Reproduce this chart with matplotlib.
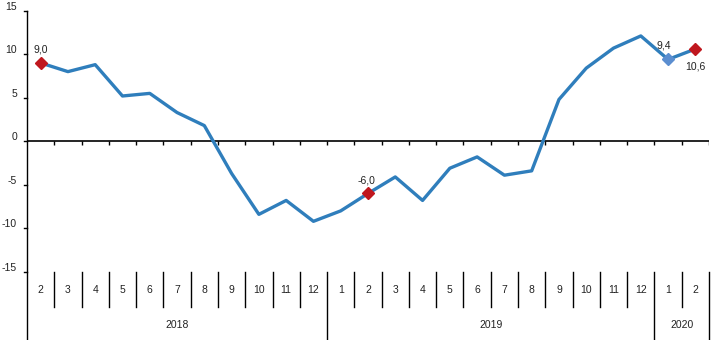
import numpy as np
import matplotlib.pyplot as plt
import matplotlib.transforms as mtransforms

plt.rcParams['font.family'] = ['Liberation Sans', 'DejaVu Sans']

# Monthly series, Feb 2018 - Feb 2020
months = ['2', '3', '4', '5', '6', '7', '8', '9', '10', '11', '12',
          '1', '2', '3', '4', '5', '6', '7', '8', '9', '10', '11', '12',
          '1', '2']
values = [9.0, 8.0, 8.8, 5.2, 5.5, 3.3, 1.8, -3.7, -8.4, -6.8, -9.2,
          -8.0, -6.0, -4.1, -6.8, -3.1, -1.8, -3.9, -3.4, 4.8, 8.4, 10.7, 12.1,
          9.4, 10.6]
years = ['2018', '2019', '2020']
year_counts = [11, 12, 2]

# highlighted points: index -> (label, marker colour, label offset in px)
red_points = [0, 12, 24]
blue_points = [23]
point_labels = {0: '9,0', 12: '-6,0', 23: '9,4', 24: '10,6'}
label_offsets = {0: (0, 13), 12: (-2, 13), 23: (-4, 14), 24: (0, -18)}

line_col = '#2F7EBC'
red_col = '#C0171E'
blue_col = '#5B8ED0'
txt_col = '#222222'
fs = 7.5

fig = plt.figure(figsize=(7.12, 3.40), dpi=100)
ax = fig.add_axes([27 / 712, 1 - 271.8 / 340, 682 / 712, 261.1 / 340])

x = np.arange(len(values))
n = len(values)
ax.plot(x, values, color=line_col, lw=2.4, zorder=3)
vals = np.array(values)
ax.plot(x[red_points], vals[red_points], ls='none', marker='D', ms=6,
        color=red_col, zorder=4)
ax.plot(x[blue_points], vals[blue_points], ls='none', marker='D', ms=6,
        color=blue_col, zorder=4)
for i, txt in point_labels.items():
    dx, dy = label_offsets[i]
    ax.annotate(txt, (x[i], values[i]), xytext=(dx, dy), textcoords='offset pixels',
                ha='center', va='center', fontsize=fs, color=txt_col)

ax.set_xlim(-0.5, n - 0.5)
ax.set_ylim(-15, 15)
for s in ['top', 'right', 'bottom', 'left']:
    ax.spines[s].set_visible(False)
ax.set_xticks([])
ax.set_yticks([])

# zero line with small downward ticks at month boundaries
ax.axhline(0, color='black', lw=1.2, zorder=2)
bounds = np.arange(n) + 0.5
ax.vlines(bounds, -0.45, 0, color='black', lw=1.0, zorder=2)

tr = ax.get_xaxis_transform()
yax = ax.get_yaxis_transform()

# y axis line running down through the category area
ax.plot([-0.5, -0.5], [1, -0.261], transform=tr, color='black', lw=1.0, clip_on=False)
for v in range(-15, 20, 5):
    ax.plot([-0.004, 0], [v, v], transform=yax, color='black', lw=1.0, clip_on=False)
    off = mtransforms.ScaledTranslation(-10 / 100, 4 / 100, fig.dpi_scale_trans)
    ax.text(0, v, str(v), transform=yax + off, ha='right', va='center',
            fontsize=fs, color=txt_col)

# month labels and separators
year_ends = np.cumsum(year_counts) - 0.5
for i, m in enumerate(months):
    ax.text(i, -0.07, m, transform=tr, ha='center', va='center', fontsize=fs, color=txt_col)
for b in bounds:
    bottom = -0.261 if np.any(np.isclose(b, year_ends)) else -0.134
    ax.plot([b, b], [0, bottom], transform=tr, color='black', lw=1.0, clip_on=False)

# year labels
start = 0
for yr, cnt in zip(years, year_counts):
    centre = start + (cnt - 1) / 2
    ax.text(centre, -0.2045, yr, transform=tr, ha='center', va='center',
            fontsize=fs, color=txt_col)
    start += cnt

fig.savefig('out.png', dpi=100)
